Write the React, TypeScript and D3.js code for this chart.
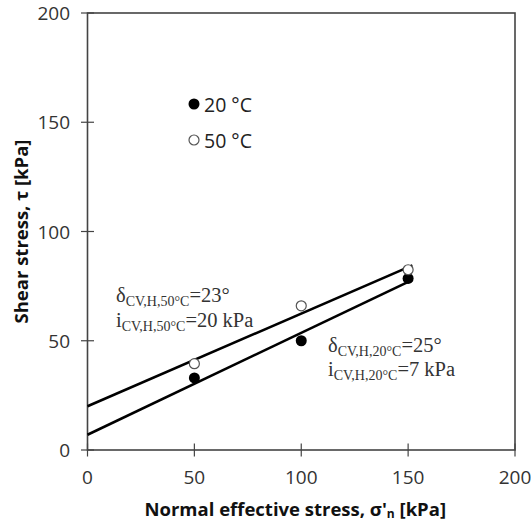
import React from 'react';
import * as d3 from 'd3';

// measured points: normal effective stress vs shear stress
const stressLevels = [50, 100, 150];
const shear20C = [33, 50, 78.5];
const shear50C = [39.5, 66, 82.5];

// fitted envelopes (intercept kPa, friction angle deg)
const fitNames = ['50C', '20C'];
const fitIntercepts = [20, 7];
const fitAngles = [23, 25];
const fitEnd = 152;

const xTicks = [0, 50, 100, 150, 200];
const yTicks = [0, 50, 100, 150, 200];

const legendLabels = ['20 °C', '50 °C'];

const W = 531;
const H = 524;
const left = 87.5;
const right = 515;
const top = 13;
const bottom = 450;

const axisFont = '"Open Sans", "DejaVu Sans", sans-serif';
const serif = '"Liberation Serif", "DejaVu Serif", serif';

const App: React.FC = () => {
  const x = d3.scaleLinear().domain([0, 200]).range([left, right]);
  const y = d3.scaleLinear().domain([0, 200]).range([bottom, top]);

  const line = d3
    .line<[number, number]>()
    .x(d => x(d[0]))
    .y(d => y(d[1]));

  const fits = fitNames.map((name, i) => {
    const slope = Math.tan((fitAngles[i] * Math.PI) / 180);
    const pts: [number, number][] = [
      [0, fitIntercepts[i]],
      [fitEnd, fitIntercepts[i] + slope * fitEnd],
    ];
    return { name, d: line(pts) || '' };
  });

  return (
    <svg
      width={W}
      height={H}
      style={{ position: 'absolute', left: 0, top: 0, background: '#fff' }}
    >
      {/* frame */}
      <rect
        x={left}
        y={top}
        width={right - left}
        height={bottom - top}
        fill="none"
        stroke="#444"
        strokeWidth={1.6}
      />

      {/* y ticks */}
      {yTicks.map(t => (
        <g key={'y' + t}>
          <line x1={left - 6.5} x2={left + 6.5} y1={y(t)} y2={y(t)} stroke="#444" strokeWidth={1.2} />
          <text
            x={70}
            y={y(t)}
            textAnchor="end"
            dominantBaseline="central"
            fontFamily={axisFont}
            fontSize={19}
            fill="#333"
          >
            {t}
          </text>
        </g>
      ))}

      {/* x ticks */}
      {xTicks.map(t => (
        <g key={'x' + t}>
          <line x1={x(t)} x2={x(t)} y1={bottom - 6.5} y2={bottom + 6.5} stroke="#444" strokeWidth={1.2} />
          <text
            x={x(t)}
            y={477}
            textAnchor="middle"
            dominantBaseline="central"
            fontFamily={axisFont}
            fontSize={19}
            fill="#333"
          >
            {t}
          </text>
        </g>
      ))}

      {/* axis titles */}
      <text
        x={(left + right) / 2 - 6}
        y={508}
        textAnchor="middle"
        dominantBaseline="central"
        fontFamily={axisFont}
        fontWeight="bold"
        fontSize={18.5}
        fill="#111"
      >
        Normal effective stress, σ'<tspan fontSize={12} dy={5}>n</tspan>
        <tspan dy={-5}> [kPa]</tspan>
      </text>
      <text
        transform={`translate(20,${(top + bottom) / 2}) rotate(-90)`}
        textAnchor="middle"
        dominantBaseline="central"
        fontFamily={axisFont}
        fontWeight="bold"
        fontSize={18.5}
        fill="#111"
      >
        Shear stress, τ [kPa]
      </text>

      {/* fitted lines */}
      {fits.map(f => (
        <path key={f.name} d={f.d} fill="none" stroke="#000" strokeWidth={2.6} />
      ))}

      {/* data */}
      {stressLevels.map((s, i) => (
        <circle key={'f' + s} cx={x(s)} cy={y(shear20C[i])} r={5.5} fill="#000" />
      ))}
      {stressLevels.map((s, i) => (
        <circle
          key={'o' + s}
          cx={x(s)}
          cy={y(shear50C[i])}
          r={5}
          fill="#fff"
          stroke="#555"
          strokeWidth={1.2}
        />
      ))}

      {/* legend */}
      <circle cx={194} cy={104} r={5.5} fill="#000" />
      <circle cx={194} cy={140} r={5} fill="#fff" stroke="#555" strokeWidth={1.2} />
      {legendLabels.map((l, i) => (
        <text
          key={l}
          x={204}
          y={104 + i * 36}
          dominantBaseline="central"
          fontFamily={axisFont}
          fontSize={19.5}
          fill="#222"
        >
          {l}
        </text>
      ))}

      {/* annotations */}
      <g fontFamily={serif} fontSize={20.5} fill="#333">
        <text x={116} y={302}>
          δ<tspan fontSize={14} dy={4}>CV,H,50°C</tspan>
          <tspan dy={-4}>=23°</tspan>
        </text>
        <text x={116} y={327}>
          i<tspan fontSize={14} dy={4}>CV,H,50°C</tspan>
          <tspan dy={-4}>=20 kPa</tspan>
        </text>
        <text x={328} y={352}>
          δ<tspan fontSize={14} dy={4}>CV,H,20°C</tspan>
          <tspan dy={-4}>=25°</tspan>
        </text>
        <text x={328} y={376}>
          i<tspan fontSize={14} dy={4}>CV,H,20°C</tspan>
          <tspan dy={-4}>=7 kPa</tspan>
        </text>
      </g>
    </svg>
  );
};

export default App;
